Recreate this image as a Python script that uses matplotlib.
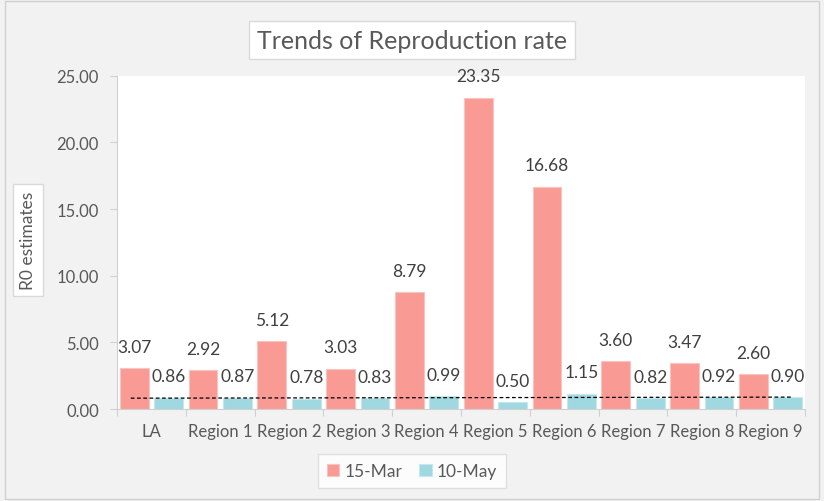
import numpy as np
import matplotlib.pyplot as plt
from matplotlib.patches import Rectangle

categories = ["LA", "Region 1", "Region 2", "Region 3", "Region 4",
              "Region 5", "Region 6", "Region 7", "Region 8", "Region 9"]
mar15 = [3.07, 2.92, 5.12, 3.03, 8.79, 23.35, 16.68, 3.60, 3.47, 2.60]
may10 = [0.86, 0.87, 0.78, 0.83, 0.99, 0.50, 1.15, 0.82, 0.92, 0.90]

plt.rcParams['font.family'] = ['Lato', 'DejaVu Sans']
txt = "#595959"

fig = plt.figure(figsize=(8.24, 5.02), dpi=100, facecolor="#f2f2f2")
fig.patches.append(Rectangle((0.006, 0.004), 0.988, 0.992, transform=fig.transFigure,
                             fill=False, edgecolor="#d0d0d0", lw=1))
ax = fig.add_axes([0.142, 0.183, 0.835, 0.664])
ax.set_facecolor("white")

x = np.arange(len(categories))
w = 0.42
b1 = ax.bar(x - 0.25, mar15, w, color="#fa9a94", edgecolor="#f6c4c1", lw=0.8, label="15-Mar")
b2 = ax.bar(x + 0.25, may10, w, color="#9fd8e1", edgecolor="#c5e8ee", lw=0.8, label="10-May")

for rect, v in zip(b1, mar15):
    ax.text(rect.get_x() + rect.get_width() / 2, v + 1.0, f"{v:.2f}",
            ha="center", va="bottom", fontsize=12.5, color="#404040")
for rect, v in zip(b2, may10):
    ax.text(rect.get_x() + rect.get_width() / 2, v + 1.0, f"{v:.2f}",
            ha="center", va="bottom", fontsize=12.5, color="#404040")

# linear trendline of the 10-May series
k, c = np.polyfit(x, may10, 1)
xt = np.array([x[0] - 0.3, x[-1] + 0.3])
ax.plot(xt, k * xt + c, ls=(0, (3, 2)), color="black", lw=0.9)

ax.set_xlim(-0.5, len(categories) - 0.5)
ax.set_ylim(0, 25)
ax.set_yticks(np.arange(0, 26, 5))
ax.set_yticklabels([f"{t:.2f}" for t in np.arange(0, 26, 5)])
ax.set_xticks(np.arange(-0.5, len(categories), 1), minor=False)
ax.set_xticklabels([])
ax.set_xticks(x, minor=True)
ax.set_xticklabels(categories, minor=True)
ax.tick_params(axis="x", which="minor", length=0, pad=10, labelsize=12, labelcolor=txt)
ax.tick_params(axis="x", which="major", length=5, color="#d0d0d0", direction="out")
ax.tick_params(axis="y", length=5, color="#d0d0d0", labelsize=12, labelcolor=txt, pad=8)
for s in ["top", "right"]:
    ax.spines[s].set_visible(False)
for s in ["left", "bottom"]:
    ax.spines[s].set_color("#d0d0d0")

fig.text(0.5, 0.918, "Trends of Reproduction rate", ha="center", va="center",
         fontsize=18, color=txt,
         bbox=dict(boxstyle="square,pad=0.3", fc="white", ec="#d9d9d9", lw=1))
fig.text(0.034, 0.52, "R0 estimates", ha="center", va="center", rotation=90,
         fontsize=12.5, color=txt,
         bbox=dict(boxstyle="square,pad=0.4", fc="white", ec="#d9d9d9", lw=1))

leg = fig.legend(handles=[b1, b2], loc="center", bbox_to_anchor=(0.5, 0.06), ncol=2,
                 frameon=True, fancybox=False, fontsize=12.5, handlelength=0.7,
                 handleheight=0.7, handletextpad=0.3, columnspacing=1.0, borderpad=0.5)
leg.get_frame().set_edgecolor("#d9d9d9")
for t in leg.get_texts():
    t.set_color(txt)

fig.savefig("out.png", dpi=100, facecolor=fig.get_facecolor())
